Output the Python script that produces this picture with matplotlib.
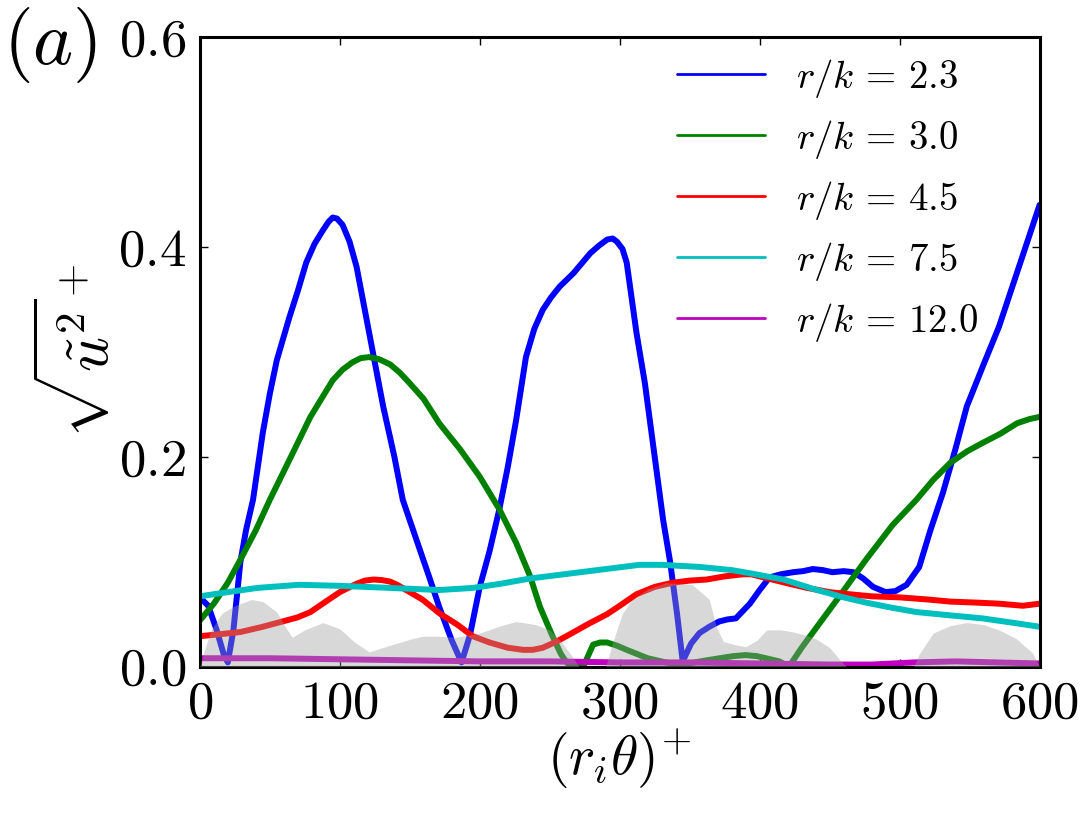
import numpy as np
import matplotlib
matplotlib.use("Agg")
import matplotlib.pyplot as plt

plt.rcParams['font.family'] = 'serif'
plt.rcParams['font.serif'] = ['cmr10', 'DejaVu Serif']
plt.rcParams['mathtext.fontset'] = 'cm'
plt.rcParams['axes.unicode_minus'] = False
plt.rcParams['axes.formatter.use_mathtext'] = True

# azimuthal position (r_i theta)^+
x_b = [0, 6, 12, 17, 20, 24, 29, 33, 38, 45, 50, 55, 64, 70, 76, 82, 88, 92, 95, 98, 102,
       107, 112, 121, 131, 139, 145, 155, 164, 171, 180, 187, 193, 200, 207, 214, 220, 226,
       233, 239, 245, 251, 257, 267, 279, 285, 291, 295, 298, 302, 305, 312, 318, 325, 331,
       336, 341, 345, 351, 357, 364, 371, 377, 383, 393, 400, 407, 415, 424, 431, 438, 445,
       452, 460, 467, 474, 481, 490, 497, 505, 514, 522, 531, 540, 548, 560, 571, 585, 600]
y_b = [0.066, 0.058, 0.035, 0.012, 0.004, 0.035, 0.1, 0.13, 0.159, 0.223, 0.26, 0.292,
       0.333, 0.358, 0.385, 0.403, 0.416, 0.424, 0.428, 0.427, 0.421, 0.405, 0.381, 0.318,
       0.248, 0.2, 0.159, 0.12, 0.085, 0.057, 0.025, 0.004, 0.03, 0.076, 0.11, 0.15, 0.19,
       0.235, 0.295, 0.322, 0.34, 0.352, 0.362, 0.375, 0.394, 0.401, 0.407, 0.408, 0.405,
       0.398, 0.385, 0.318, 0.27, 0.2, 0.14, 0.1, 0.05, 0.005, 0.022, 0.032, 0.038, 0.043,
       0.045, 0.046, 0.06, 0.073, 0.085, 0.088, 0.09, 0.091, 0.093, 0.092, 0.09, 0.091, 0.09,
       0.084, 0.076, 0.071, 0.072, 0.078, 0.095, 0.13, 0.166, 0.208, 0.248, 0.288, 0.324,
       0.38, 0.44]

x_g = [0, 10, 20, 29, 40, 50, 64, 79, 95, 102, 109, 115, 121, 128, 136, 143, 150, 160, 171,
       186, 200, 214, 226, 236, 243, 252, 258, 262, 266, 274, 281, 286, 291, 298, 305, 320,
       333, 345, 362, 381, 390, 398, 414, 421, 430, 441, 457, 476, 495, 512, 524, 536, 548,
       559, 572, 584, 593, 600]
y_g = [0.044, 0.06, 0.08, 0.102, 0.13, 0.159, 0.197, 0.238, 0.273, 0.283, 0.29, 0.294,
       0.295, 0.293, 0.288, 0.28, 0.27, 0.255, 0.232, 0.207, 0.181, 0.15, 0.118, 0.086,
       0.057, 0.029, 0.012, 0.004, 0.0, 0.0, 0.021, 0.023, 0.023, 0.02, 0.016, 0.008, 0.004,
       0.002, 0.006, 0.01, 0.011, 0.01, 0.005, 0.0, 0.018, 0.038, 0.067, 0.102, 0.135,
       0.159, 0.178, 0.194, 0.205, 0.213, 0.222, 0.232, 0.236, 0.238]

x_r = [0, 15, 29, 45, 59, 70, 79, 90, 100, 112, 118, 124, 130, 136, 141, 150, 159, 171, 184,
       195, 207, 220, 231, 238, 245, 255, 266, 278, 291, 300, 312, 325, 338, 350, 362, 375,
       388, 394, 400, 409, 421, 434, 450, 464, 480, 500, 520, 536, 555, 571, 588, 600]
y_r = [0.029, 0.031, 0.033, 0.038, 0.043, 0.047, 0.052, 0.062, 0.071, 0.079, 0.082, 0.083,
       0.0825, 0.081, 0.078, 0.071, 0.064, 0.051, 0.04, 0.029, 0.023, 0.018, 0.016, 0.016,
       0.018, 0.024, 0.032, 0.041, 0.05, 0.058, 0.069, 0.076, 0.08, 0.082, 0.083, 0.086,
       0.088, 0.088, 0.086, 0.083, 0.079, 0.075, 0.071, 0.069, 0.067, 0.066, 0.064, 0.062,
       0.061, 0.06, 0.058, 0.06]

x_c = [0, 20, 41, 71, 100, 136, 171, 195, 215, 236, 266, 290, 314, 330, 357, 380, 393, 417,
       441, 460, 476, 495, 512, 535, 559, 580, 600]
y_c = [0.067, 0.071, 0.075, 0.078, 0.077, 0.075, 0.073, 0.075, 0.079, 0.084, 0.089, 0.093,
       0.097, 0.097, 0.095, 0.092, 0.089, 0.083, 0.073, 0.066, 0.061, 0.056, 0.052, 0.049,
       0.046, 0.042, 0.038]

x_m = [0, 50, 100, 150, 200, 250, 300, 350, 400, 450, 480, 510, 540, 570, 600]
y_m = [0.008, 0.008, 0.007, 0.006, 0.005, 0.005, 0.004, 0.004, 0.003, 0.002, 0.002, 0.004,
       0.005, 0.004, 0.003]

# roughness profile (grey shading)
x_k = [0, 2, 8, 16, 25, 37, 45, 55, 62, 66, 75, 88, 100, 110, 121, 135, 150, 159, 170, 183,
       200, 215, 226, 240, 250, 258, 266, 271, 290, 295, 302, 309, 320, 333, 345, 352, 364,
       369, 374, 382, 390, 398, 405, 415, 424, 433, 441, 450, 457, 462, 510, 514, 524, 536,
       548, 560, 571, 583, 595, 600]
y_k = [0.0, 0.01, 0.035, 0.051, 0.058, 0.064, 0.062, 0.052, 0.036, 0.028, 0.035, 0.042,
       0.036, 0.024, 0.014, 0.02, 0.026, 0.029, 0.029, 0.028, 0.032, 0.039, 0.043, 0.04,
       0.035, 0.024, 0.01, 0.0, 0.0, 0.023, 0.051, 0.064, 0.074, 0.08, 0.079, 0.078, 0.064,
       0.038, 0.024, 0.021, 0.019, 0.025, 0.035, 0.035, 0.033, 0.03, 0.026, 0.018, 0.007,
       0.0, 0.0, 0.012, 0.032, 0.039, 0.042, 0.04, 0.035, 0.027, 0.013, 0.0]

series = [
    (x_b, y_b, 'b', r'$r/k\,=\,2.3$'),
    (x_g, y_g, 'g', r'$r/k\,=\,3.0$'),
    (x_r, y_r, 'r', r'$r/k\,=\,4.5$'),
    (x_c, y_c, 'c', r'$r/k\,=\,7.5$'),
    (x_m, y_m, 'm', r'$r/k\,=\,12.0$'),
]

fig = plt.figure(figsize=(10.92, 8.23), dpi=100)
ax = fig.add_axes([0.183, 0.190, 0.769, 0.765])

for xs, ys, col, lab in series:
    ax.plot(xs, ys, color=col, lw=4.3, label=lab, zorder=2,
            solid_joinstyle='round', solid_capstyle='round')

ax.fill_between(x_k, 0, y_k, color='#9e9e9e', alpha=0.4, lw=0, zorder=3)

ax.set_xlim(0, 600)
ax.set_ylim(0, 0.6)
ax.set_xticks([0, 100, 200, 300, 400, 500, 600])
ax.set_yticks([0.0, 0.2, 0.4, 0.6])
ax.tick_params(direction='in', length=6, width=1, labelsize=38, pad=10,
               top=True, right=True)
for sp in ax.spines.values():
    sp.set_linewidth(2.2)

ax.set_xlabel(r'$(r_i\theta)^{\!+}$', fontsize=40, labelpad=0)
ax.set_ylabel(r'$\sqrt{\tilde{u}^2}^{\!+}$', fontsize=44, labelpad=-2)

leg = ax.legend(loc='upper right', bbox_to_anchor=(0.945, 0.993), frameon=False,
                fontsize=28, handlelength=2.25, handletextpad=0.8, labelspacing=0.46,
                borderaxespad=0)
for h in leg.get_lines():
    h.set_linewidth(2.0)

fig.text(0.003, 0.945, r'$(a)$', fontsize=55, va='center', ha='left')

fig.savefig('out.png', dpi=100)
